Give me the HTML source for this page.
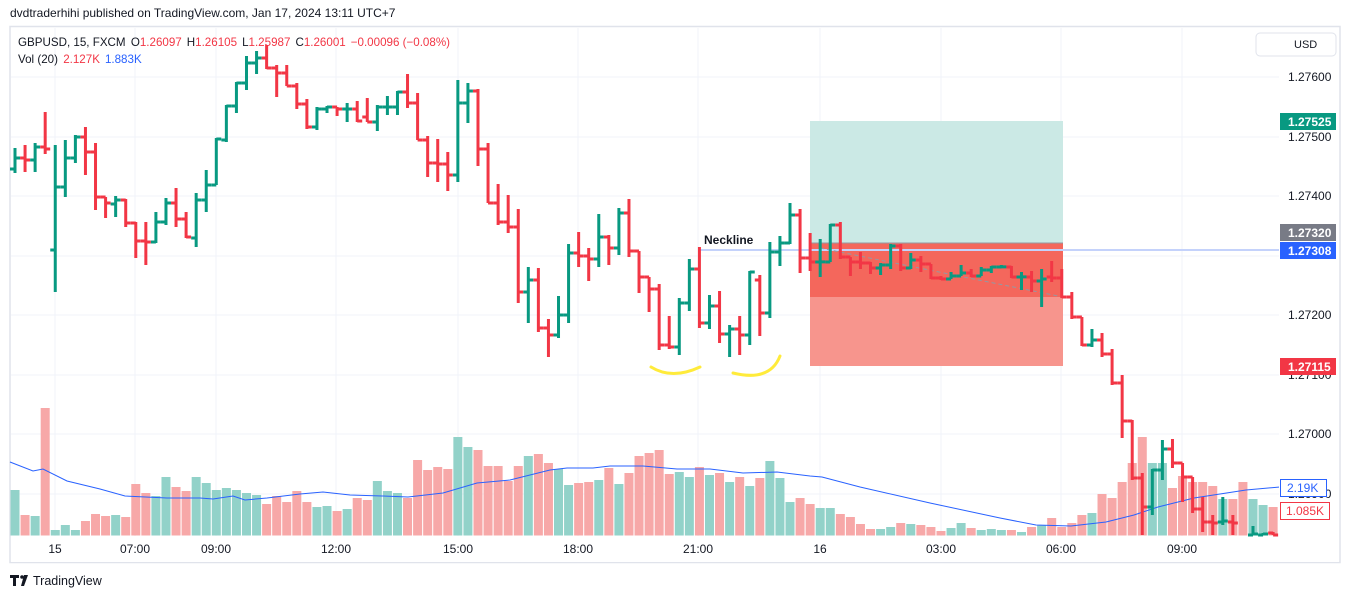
<!DOCTYPE html>
<html><head><meta charset="utf-8">
<style>
html,body{margin:0;padding:0;background:#fff;}
body{width:1350px;height:598px;overflow:hidden;position:relative;font-family:"Liberation Sans",sans-serif;}
svg{position:absolute;left:0;top:0;}
</style></head>
<body>
<svg id="s" width="1350" height="598" viewBox="0 0 1350 598" font-family="Liberation Sans, sans-serif">
<rect x="0" y="0" width="1350" height="598" fill="#fff"/>
<text x="10" y="17" font-size="12" fill="#131722">dvdtraderhihi published on TradingView.com, Jan 17, 2024 13:11 UTC+7</text>
<rect x="10" y="26.5" width="1330" height="536" fill="none" stroke="#e0e3eb" stroke-width="1.5"/>
<g id="grid" stroke="#f0f3fa" stroke-width="1"></g>
<g id="vol"></g>
<polyline id="ma" fill="none" stroke="#2962ff" stroke-width="1" points=""/>
<rect x="810" y="121" width="253" height="122" fill="#cbe9e5"/>
<rect x="810" y="243" width="253" height="123" fill="#f7958d"/>
<rect x="810" y="243" width="253" height="54" fill="#f4675c"/>
<line x1="810" y1="243" x2="1063" y2="243" stroke="#9598a1" stroke-width="1"/>
<line x1="698" y1="250" x2="1280" y2="250" stroke="#c4d2fb" stroke-width="2"/>
<line x1="820" y1="248" x2="1058" y2="296" stroke="#9598a1" stroke-width="1" stroke-dasharray="4,3"/>
<text x="704" y="244" font-size="12" fill="#131722" font-weight="bold">Neckline</text>
<g id="bars" stroke-width="3" fill="none"></g>
<path d="M651 367 Q672 380 700 367" stroke="#ffeb3b" stroke-width="3" fill="none" stroke-linecap="round"/>
<path d="M733 373 Q770 382 780 356" stroke="#ffeb3b" stroke-width="3" fill="none" stroke-linecap="round"/>
<rect x="1279" y="27.5" width="60" height="508" fill="#fff"/>
<rect x="11" y="537" width="1328" height="25" fill="#fff"/>
<g font-size="12" fill="#131722">
<text x="1288" y="81">1.27600</text>
<text x="1288" y="141">1.27500</text>
<text x="1288" y="200">1.27400</text>
<text x="1288" y="319">1.27200</text>
<text x="1288" y="379">1.27100</text>
<text x="1288" y="438">1.27000</text>
<text x="1288" y="498">1.26900</text>
</g>
<rect x="1256" y="33" width="80" height="23" rx="4" fill="#fff" stroke="#e0e3eb"/>
<text x="1294" y="48" font-size="11" fill="#131722">USD</text>
<g font-size="12" font-weight="bold" fill="#fff">
<rect x="1280" y="113" width="56" height="17" fill="#089981"/><text x="1288" y="126">1.27525</text>
<rect x="1280" y="224" width="56" height="17" fill="#787b86"/><text x="1288" y="237">1.27320</text>
<rect x="1280" y="242" width="56" height="17" fill="#2962ff"/><text x="1288" y="255">1.27308</text>
<rect x="1280" y="358" width="56" height="17" fill="#f23645"/><text x="1288" y="371">1.27115</text>
</g>
<rect x="1280.5" y="479.5" width="46" height="17" fill="#fff" stroke="#2962ff"/><text x="1287" y="492" font-size="12" fill="#2962ff">2.19K</text>
<rect x="1280.5" y="502.5" width="49" height="17" fill="#fff" stroke="#f23645"/><text x="1286" y="515" font-size="12" fill="#f23645">1.085K</text>
<g font-size="12" fill="#131722" text-anchor="middle">
<text x="55" y="553">15</text><text x="135" y="553">07:00</text><text x="216" y="553">09:00</text>
<text x="336" y="553">12:00</text><text x="458" y="553">15:00</text><text x="578" y="553">18:00</text>
<text x="698" y="553">21:00</text><text x="820" y="553">16</text><text x="941" y="553">03:00</text>
<text x="1061" y="553">06:00</text><text x="1182" y="553">09:00</text>
</g>
<text x="18" y="46" font-size="11.6" fill="#131722">GBPUSD, 15, FXCM <tspan dx="2">O</tspan><tspan fill="#f23645">1.26097</tspan><tspan dx="5">H</tspan><tspan fill="#f23645">1.26105</tspan><tspan dx="5">L</tspan><tspan fill="#f23645">1.25987</tspan><tspan dx="5">C</tspan><tspan fill="#f23645">1.26001</tspan><tspan dx="5" fill="#f23645">−0.00096 (−0.08%)</tspan></text>
<text x="18" y="63" font-size="11.6" fill="#131722">Vol (20) <tspan dx="2" fill="#f23645">2.127K</tspan><tspan dx="5" fill="#2962ff">1.883K</tspan></text>
<g fill="#131722"><path d="M10 575 h9 v3 h-3 v8 h-3 v-8 h-3z"/><circle cx="22" cy="577" r="1.8"/><path d="M24 575 h4 l-4 11 h-3z"/></g>
<text x="33" y="585" font-size="12.5" fill="#131722">TradingView</text>
</svg>
<script>
var P=[[148,173,169,158],[145,172,158,160],[143,172,160,147],[112,154,147,149],[145,292,250,187],[140,197,187,158],[135,163,158,137],[127,175,137,152],[143,210,152,197],[197,218,197,203],[196,217,204,200],[199,227,200,223],[222,258,223,241],[222,265,241,242],[212,243,242,222],[198,225,222,203],[188,227,203,219],[212,238,219,237],[193,247,238,200],[170,212,200,185],[138,185,185,139],[105,142,140,106],[82,113,106,83],[56,90,83,63],[51,74,63,58],[45,69,58,68],[65,97,68,73],[65,86,73,86],[83,109,86,104],[99,129,104,127],[107,130,127,109],[106,113,109,107],[107,116,107,109],[103,122,109,109],[101,122,109,121],[98,122,117,122],[105,131,122,107],[96,115,107,107],[91,115,107,92],[74,108,92,103],
[93,140,103,140],[136,177,140,163],[139,182,163,164],[152,191,164,175],[80,182,175,103],[83,123,103,91],[89,166,91,149],[143,203,149,203],[184,225,203,222],[195,233,222,227],[209,303,227,292],[267,323,292,280],[268,332,280,328],[319,357,328,335],[296,338,335,315],[244,323,315,253],[232,267,253,256],[248,281,256,259],[214,267,259,237],[235,265,237,248],[208,255,248,213],[199,257,213,251],[251,293,251,277],[277,312,277,289],[284,350,289,345],[316,349,345,347],[298,355,347,303],[259,311,303,269],[247,328,269,323],[295,329,323,306],[291,343,306,334],[325,357,334,329],[316,355,329,335],[271,345,335,272],[275,336,280,313],[242,318,313,252],[236,266,252,243],[203,244,243,215],[209,273,215,258],[233,271,258,262],[239,277,262,261.9],
[224,262,262,225],[222,259,225,257],[257,276,257,262],[252,269,262,263],[262,274,263,268],[263,275,268,265],[244,269,265,246],[244,271,246,268],[253,269,268,260],[256,272,260,264],[264,279,264,278],[276,280,278,279],[272,279,279,276],[265,276,276,273],[269,277,273,276],[267,276,276,270],[266,273,270,267],[265,268,267,266.9],[266,278,267,277],[272,290,277,276.9],[271,292,277,281],[269,307,281,279],[261,282,277,278],[269,298,278,297],[292,319,297,317],[317,346,317,345],[329,347,345,340],[333,357,340,354],[349,385,354,383],[375,438,383,421],[420,480,421,478],[473,535,478,507],[469,515,507,470],[440,480,470,449],[439,468,449,463],[463,502,463,477],[477,513,477,509],[497,532,509,522],[515,535,522,523],[497,525,522,521],[515,535,522,523],null,[526,535,535,534],[533,535,535,534],[532,535,533,535]];
var V=[490,515,516,408,530,525,530,521,514,516,515,517,484,493,496,477,487,491,477,483,490,488,490,493,495,504,496,502,491,502,507,506,511,509,498,500,481,491,493,498,460,
470,467,469,437,447,450,466,466,481,466,456,454,463,469,485,483,482,480,468,484,473,456,453,450,474,472,477,467,475,473,482,477,486,478,461,478,
502,498,504,508,508,514,517,524,529,529,527,523,524,525,527,531,528,523,528,530,529,530,530,532,527,525,518,527,523,515,513,494,498,482,463,437,463,463,488,476,482,482,486,499,499,482,499,505,507];
var NS="http://www.w3.org/2000/svg";
function el(t,a,p){var e=document.createElementNS(NS,t);for(var k in a)e.setAttribute(k,a[k]);p.appendChild(e);return e;}
var g=document.getElementById('grid');
[77,137,196,256,315,375,434,494].forEach(function(y){el('line',{x1:11,x2:1279,y1:y,y2:y},g);});
[55,135,216,336,458,578,698,820,941,1061,1182].forEach(function(x){el('line',{x1:x,x2:x,y1:28,y2:536},g);});
function X(i){return 15+i*10.065;}
var vg=document.getElementById('vol');
for(var i=0;i<V.length&&i<126;i++){var p=P[i];var up=p?p[3]<=p[2]:false;
el('rect',{x:X(i)-4.5,y:V[i],width:9,height:535.5-V[i],fill:up?'#92d2c9':'#f7a8a8'},vg);}
var bg=document.getElementById('bars');
for(var i=0;i<P.length;i++){var p=P[i];if(!p)continue;var x=X(i);var c=p[3]<=p[2]?'#089981':'#f23645';
el('path',{d:'M'+x+' '+p[0]+'V'+Math.min(p[1],535)+'M'+(x-5)+' '+p[2]+'H'+x+'M'+x+' '+p[3]+'H'+(x+5),stroke:c},bg);}
var ma=[[10,462],[33,471],[43,469],[67,481],[100,489],[125,496],[167,498],[200,498],[213,499],[233,496],[245,500],[267,498],[300,494],[323,492],[350,495],[383,496],[408,497],[443,493],[477,483],[510,480],[550,470],[567,468],[593,468],[610,466],[643,466],[677,469],[710,469],[743,473],[777,472],[810,476],[822,477],[860,487],[930,503],[1000,518],[1036,525],[1071,526],[1106,522],[1134,515],[1158,507],[1194,498],[1246,490],[1280,487]];
document.getElementById('ma').setAttribute('points',ma.map(function(q){return q.join(',')}).join(' '));
</script>
</body></html>
